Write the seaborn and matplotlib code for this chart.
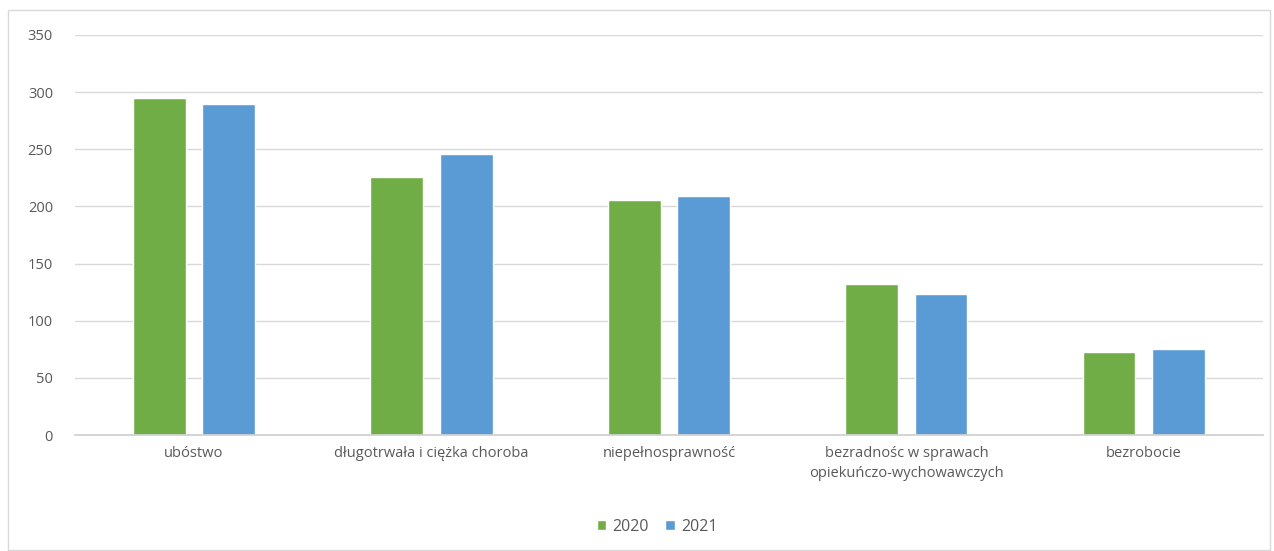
import pandas as pd
import matplotlib.pyplot as plt
import seaborn as sns
from matplotlib.patches import Rectangle

# data
categories = ["ubóstwo", "długotrwała i ciężka choroba", "niepełnosprawność",
              "bezradnośc w sprawach\nopiekuńczo-wychowawczych", "bezrobocie"]
values_2020 = [295, 226, 206, 132, 73]
values_2021 = [290, 246, 209, 123, 75]
years = ["2020", "2021"]

df = pd.DataFrame({
    "kategoria": categories * 2,
    "rok": [years[0]] * 5 + [years[1]] * 5,
    "liczba": values_2020 + values_2021,
})

sns.set_theme(style="white")
plt.rcParams['font.family'] = ['Open Sans', 'DejaVu Sans']

fig = plt.figure(figsize=(12.74, 5.51), dpi=100)
ax = fig.add_axes([0.059, 0.2105, 0.932, 0.726])

sns.barplot(data=df, x="kategoria", y="liczba", hue="rok",
            palette=["#70AD47", "#5B9BD5"], width=0.585, gap=0.24,
            saturation=1, ax=ax)

ax.set_ylim(0, 350)
ax.set_yticks(range(0, 351, 50))
ax.yaxis.grid(True, color="#D9D9D9", linewidth=1)
ax.set_axisbelow(True)
for s in ["top", "right", "left"]:
    ax.spines[s].set_visible(False)
ax.spines["bottom"].set_color("#D0D0D0")
ax.set_xlabel("")
ax.set_ylabel("")
ax.tick_params(axis="both", length=0, labelsize=10.5, colors="#595959", pad=8)
ax.tick_params(axis="y", pad=16)
for lbl in ax.get_xticklabels():
    lbl.set_linespacing(1.45)

ax.legend(loc="center", bbox_to_anchor=(0.49, -0.23), ncol=2, frameon=False,
          fontsize=11.5, handlelength=0.6, handleheight=0.6, handletextpad=0.4,
          columnspacing=1.0, labelcolor="#595959")

# chart area border
fig.patches.append(Rectangle((8 / 1274, 0.002), 1262 / 1274, 0.98, transform=fig.transFigure,
                             fill=False, edgecolor="#D9D9D9", linewidth=1))

fig.savefig("out.png", dpi=100)
